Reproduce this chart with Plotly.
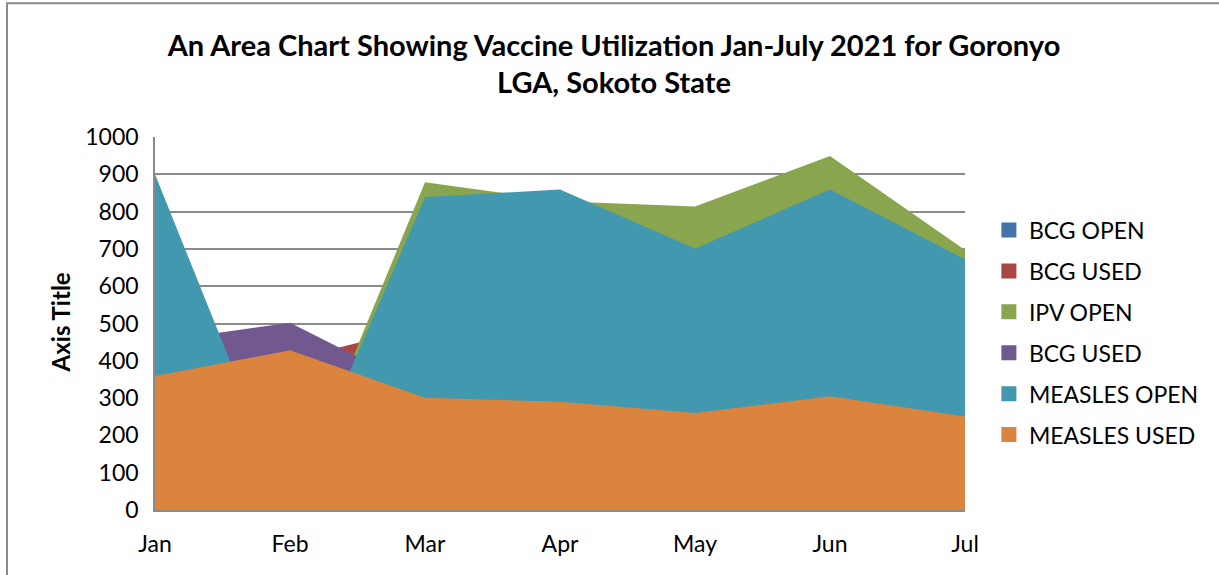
import plotly.graph_objects as go

# Monthly vaccine figures, Goronyo LGA (Jan-Jul 2021)
months = ["Jan", "Feb", "Mar", "Apr", "May", "Jun", "Jul"]
bcg_open = [150, 180, 210, 200, 170, 190, 160]
bcg_used = [380, 402, 494, 470, 430, 480, 410]
ipv_open = [0, 0, 879, 828, 814, 949, 697]
bcg_used_2 = [451, 502, 320, 340, 300, 330, 290]
measles_open = [900, 0, 839, 859, 701, 859, 672]
measles_used = [359, 428, 301, 290, 260, 305, 251]

series_names = ["BCG OPEN", "BCG USED", "IPV OPEN", "BCG USED", "MEASLES OPEN", "MEASLES USED"]
series_values = [bcg_open, bcg_used, ipv_open, bcg_used_2, measles_open, measles_used]
colors = ["#4572A7", "#AA4643", "#89A54E", "#71588F", "#4198AF", "#DB843D"]

FONT = "Lato"
GRID = "#8a8a8a"

fig = go.Figure()

# Overlapping (non-stacked) areas: later series are painted over earlier ones
for name, vals, col in zip(series_names, series_values, colors):
    fig.add_trace(go.Scatter(
        x=months, y=vals, name=name, mode="none",
        fill="tozeroy", fillcolor=col, showlegend=False,
        hoverinfo="x+y+name",
    ))

# Legend entries with square swatches
for i, (name, col) in enumerate(zip(series_names, colors)):
    fig.add_trace(go.Scatter(
        x=[None], y=[None], name=name, mode="markers",
        marker=dict(symbol="square", size=15, color=col),
        legendgroup=f"g{i}", showlegend=True,
    ))

fig.update_layout(
    width=1219, height=575,
    margin=dict(l=155, r=254, t=137, b=65),
    paper_bgcolor="white", plot_bgcolor="white",
    font=dict(family=FONT, color="black", size=23),
    title=dict(
        text="An Area Chart Showing Vaccine Utilization Jan-July 2021 for Goronyo<br>LGA, Sokoto State",
        font=dict(family=FONT, size=29, weight="bold", color="black"),
        xref="paper", x=0.5667, xanchor="center",
        yref="container", y=1 - 55.5 / 575, yanchor="middle",
    ),
    xaxis=dict(
        type="category", range=[0, 6], showgrid=False,
        showline=True, linecolor=GRID, linewidth=1.5,
        ticks="", ticklabelstandoff=13,
        tickfont=dict(family=FONT, size=23, color="black"),
        fixedrange=True,
    ),
    yaxis=dict(
        range=[0, 1000], dtick=100, tick0=0,
        showgrid=True, gridcolor=GRID, gridwidth=1.8,
        showline=True, linecolor=GRID, linewidth=1.5,
        zeroline=False, ticks="", ticklabelstandoff=10,
        tickfont=dict(family=FONT, size=23, color="black"),
        fixedrange=True,
    ),
    legend=dict(
        x=1.0295, xanchor="left", y=0.808, yanchor="top",
        traceorder="grouped", tracegroupgap=8,
        font=dict(family=FONT, size=23, color="black"),
        bgcolor="rgba(0,0,0,0)",
    ),
    annotations=[dict(
        text="Axis Title", textangle=-90,
        xref="paper", yref="paper", x=(60 - 155) / 810, y=0.503,
        xanchor="center", yanchor="middle", showarrow=False,
        font=dict(family=FONT, size=24, weight="bold", color="black"),
    )],
    shapes=[dict(
        type="rect", xref="paper", yref="paper",
        x0=(7 - 155) / 810, x1=1.6, y0=-0.5, y1=(509.5 - 3) / 372.8,
        line=dict(color=GRID, width=2), fillcolor="rgba(0,0,0,0)",
    )],
)

fig.write_html("out.html")
